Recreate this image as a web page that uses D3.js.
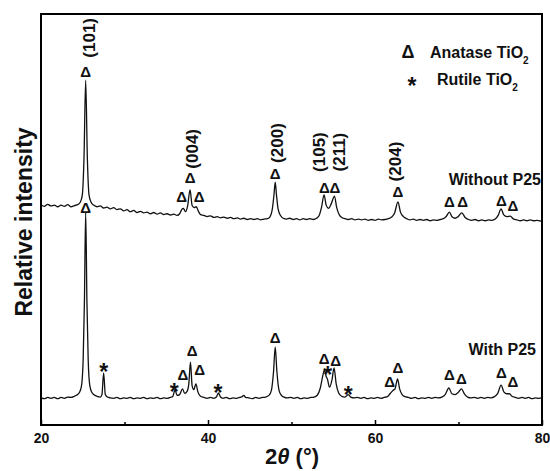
<!DOCTYPE html>
<html>
  <head>
    <meta charset="utf-8">
    <title>XRD patterns</title>
    <script src="https://unpkg.com/d3@7/dist/d3.min.js"></script>
    <style>
      body { margin: 0; background: #fff; }
      svg text { font-family: "Liberation Sans", Arial, sans-serif; font-weight: bold; fill: #111; }
      .tick line { stroke: #000; stroke-width: 1.5; }
      .tick text { font-size: 14px; }
    </style>
  </head>
  <body>
    <div id="chart"></div>
    <script>
    // XRD traces, [2theta, intensity a.u.]
    var withoutP25 = [
      [20.0,536],[20.4,532],[20.8,537],[21.2,533],[21.6,535],[22.0,531],[22.4,535],[22.8,532],[23.2,536],[23.6,531],
      [24.0,534],[24.4,536],[24.7,542],[24.95,560],[25.15,650],[25.35,839],[25.55,650],[25.75,560],[26.0,542],[26.3,535],
      [26.7,531],[27.1,533],[27.5,528],[27.9,530],[28.3,526],[28.7,529],[29.1,524],[29.5,526],[29.9,521],[30.3,524],
      [30.7,519],[31.1,522],[31.5,517],[31.9,520],[32.3,516],[32.7,518],[33.1,514],[33.5,517],[33.9,513],[34.3,516],
      [34.7,512],[35.1,514],[35.5,511],[35.9,513],[36.3,510],[36.6,514],[36.85,524],[37.05,527],[37.3,519],[37.55,532],
      [37.85,572],[38.1,534],[38.35,529],[38.6,531],[38.85,520],[39.1,512],[39.5,510],[39.9,507],[40.3,509],[40.7,505],
      [41.1,507],[41.5,504],[41.9,506],[42.3,503],[42.7,505],[43.1,502],[43.5,504],[43.9,501],[44.3,503],[44.7,500],
      [45.1,502],[45.5,500],[45.9,502],[46.3,499],[46.7,501],[47.1,502],[47.4,506],[47.7,525],[47.9,560],[48.05,591],
      [48.2,560],[48.4,525],[48.7,509],[49.0,503],[49.4,501],[49.8,503],[50.2,500],[50.6,502],[51.0,499],[51.4,502],
      [51.8,500],[52.2,502],[52.6,500],[53.0,503],[53.3,509],[53.6,530],[53.9,560],[54.15,535],[54.45,527],[54.75,538],
      [55.15,557],[55.4,530],[55.7,512],[56.0,505],[56.4,502],[56.8,500],[57.2,502],[57.6,499],[58.0,501],[58.4,499],
      [58.8,501],[59.2,498],[59.6,500],[60.0,498],[60.4,501],[60.8,499],[61.2,500],[61.6,502],[62.0,506],[62.35,516],
      [62.75,543],[63.05,518],[63.4,507],[63.8,502],[64.2,499],[64.6,501],[65.0,498],[65.4,500],[65.8,498],[66.2,500],
      [66.6,497],[67.0,499],[67.4,498],[67.8,500],[68.2,502],[68.55,508],[68.9,518],[69.25,506],[69.6,503],[69.95,507],
      [70.4,516],[70.8,505],[71.2,500],[71.6,498],[72.0,500],[72.4,497],[72.8,499],[73.2,497],[73.6,499],[74.0,498],
      [74.4,501],[74.75,510],[75.1,526],[75.4,512],[75.8,507],[76.2,508],[76.6,501],[77.0,499],[77.4,497],[77.8,499],
      [78.2,497],[78.6,499],[79.0,497],[79.4,498],[79.8,496],[80.0,498]
    ];

    var withP25 = [
      [20.0,66],[20.4,64],[20.8,67],[21.2,65],[21.6,67],[22.0,64],[22.4,67],[22.8,65],[23.2,68],[23.6,67],
      [24.0,70],[24.3,73],[24.6,79],[24.85,95],[25.05,160],[25.2,300],[25.35,518],[25.5,300],[25.65,160],[25.85,95],
      [26.1,79],[26.4,73],[26.8,69],[27.1,68],[27.3,74],[27.5,127],[27.7,74],[27.95,68],[28.3,66],[28.7,65],
      [29.1,67],[29.5,64],[29.9,66],[30.3,65],[30.7,67],[31.1,64],[31.5,66],[31.9,65],[32.3,67],[32.7,64],
      [33.1,66],[33.5,65],[33.9,67],[34.3,64],[34.7,66],[35.1,65],[35.5,67],[35.8,70],[36.05,86],[36.3,72],
      [36.6,74],[36.95,88],[37.2,77],[37.5,82],[37.7,100],[37.9,153],[38.1,95],[38.3,86],[38.55,100],[38.8,80],
      [39.1,70],[39.5,67],[39.9,65],[40.3,67],[40.7,65],[41.0,68],[41.25,78],[41.5,68],[41.8,65],[42.2,67],
      [42.6,64],[43.0,66],[43.4,65],[43.8,67],[44.1,69],[44.3,72],[44.5,67],[44.9,66],[45.3,64],[45.7,67],
      [46.1,65],[46.5,67],[46.9,68],[47.3,72],[47.6,85],[47.85,130],[48.05,190],[48.25,130],[48.5,85],[48.8,72],
      [49.1,68],[49.5,66],[49.9,67],[50.3,65],[50.7,67],[51.1,64],[51.5,66],[51.9,65],[52.3,67],[52.7,68],
      [53.1,73],[53.45,90],[53.75,120],[53.95,134],[54.15,118],[54.3,112],[54.55,92],[54.85,110],[55.1,139],[55.35,100],
      [55.65,78],[56.0,70],[56.4,68],[56.8,74],[57.1,68],[57.5,66],[57.9,67],[58.3,65],[58.7,67],[59.1,64],
      [59.5,66],[59.9,65],[60.3,67],[60.7,65],[61.1,67],[61.5,69],[61.8,76],[62.15,84],[62.4,88],[62.7,112],
      [62.95,88],[63.25,74],[63.6,69],[64.0,67],[64.4,65],[64.8,67],[65.2,64],[65.6,66],[66.0,65],[66.4,67],
      [66.8,65],[67.2,67],[67.6,66],[68.0,68],[68.4,74],[68.85,90],[69.2,76],[69.6,74],[70.0,80],[70.35,88],
      [70.7,76],[71.1,68],[71.5,66],[71.9,67],[72.3,65],[72.7,67],[73.1,65],[73.5,67],[73.9,66],[74.3,69],
      [74.7,77],[75.1,97],[75.45,80],[75.8,76],[76.1,76],[76.4,70],[76.8,67],[77.2,65],[77.6,67],[78.0,65],
      [78.4,67],[78.8,64],[79.2,66],[79.6,65],[80.0,66]
    ];

    // peak markers [2theta, intensity]
    var anataseWithout = [[25.35,859],[36.85,557],[37.85,601],[38.95,555],[48.05,613],[53.95,577],[55.2,577],
      [62.75,567],[68.9,543],[70.5,543],[75.15,547],[76.5,533]];
    var anataseWith = [[25.35,530],[37.0,122],[38.1,182],[39.0,136],[48.05,212],[53.9,163],[55.3,156],
      [61.75,105],[62.75,141],[68.9,122],[70.35,114],[75.15,127],[76.5,107]];
    var rutileWith = [[27.5,144],[35.95,95],[41.2,92],[54.35,136],[56.8,88]];

    var hklText = ["(101)", "(004)", "(200)", "(105)", "(211)", "(204)"];
    var hklPos = [[25.8,942],[38.15,672],[48.3,686],[53.4,664],[55.75,664],[62.45,641]];

    var xTicks = [20, 40, 60, 80];
    var xMinor = [30, 50, 70];

    var margin = {top: 14, right: 8, bottom: 46, left: 41},
        W = 550, H = 471,
        width = W - margin.left - margin.right,
        height = H - margin.top - margin.bottom;

    var svg = d3.select("#chart").append("svg")
      .attr("width", W)
      .attr("height", H);

    var g = svg.append("g")
      .attr("transform", "translate(" + margin.left + "," + margin.top + ")");

    var x = d3.scaleLinear().domain([20, 80]).range([0, width]);
    var y = d3.scaleLinear().domain([0, 1000]).range([height, 0]);

    var line = d3.line()
      .x(d => x(d[0]))
      .y(d => y(d[1]))
      .curve(d3.curveMonotoneX);

    [withoutP25, withP25].forEach(function(s) {
      g.append("path")
        .datum(s)
        .attr("d", line)
        .attr("fill", "none")
        .attr("stroke", "#111")
        .attr("stroke-width", 1.3)
        .attr("stroke-linejoin", "round");
    });

    // axis ticks point inward
    g.append("g")
      .attr("transform", "translate(0," + height + ")")
      .call(d3.axisBottom(x).tickValues(xTicks).tickSizeInner(-5).tickSizeOuter(0).tickPadding(8))
      .call(a => a.select(".domain").remove());

    g.append("g")
      .attr("transform", "translate(0," + height + ")")
      .call(d3.axisBottom(x).tickValues(xMinor).tickSizeInner(-3).tickSizeOuter(0).tickFormat(""))
      .call(a => a.select(".domain").remove());

    g.append("rect")
      .attr("width", width)
      .attr("height", height)
      .attr("fill", "none")
      .attr("stroke", "#000")
      .attr("stroke-width", 2);

    // markers
    g.selectAll(".tri")
      .data(anataseWithout.concat(anataseWith))
      .enter().append("text")
      .attr("x", d => x(d[0]))
      .attr("y", d => y(d[1]))
      .attr("text-anchor", "middle")
      .attr("dominant-baseline", "central")
      .style("font-size", "15px")
      .text("\u0394");

    g.selectAll(".star")
      .data(rutileWith)
      .enter().append("text")
      .attr("x", d => x(d[0]))
      .attr("y", d => y(d[1]))
      .attr("dy", "0.6em")
      .attr("text-anchor", "middle")
      .style("font-size", "23px")
      .text("*");

    g.selectAll(".hkl")
      .data(hklPos)
      .enter().append("text")
      .attr("transform", d => "translate(" + x(d[0]) + "," + y(d[1]) + ") rotate(-90)")
      .attr("text-anchor", "middle")
      .attr("dominant-baseline", "central")
      .style("font-size", "17px")
      .text((d, i) => hklText[i]);

    // sample labels
    svg.append("text")
      .attr("x", 541).attr("y", 185)
      .attr("text-anchor", "end")
      .style("font-size", "16px")
      .text("Without P25");

    svg.append("text")
      .attr("x", 536).attr("y", 355)
      .attr("text-anchor", "end")
      .style("font-size", "16px")
      .text("With P25");

    // legend
    var leg = svg.append("g");
    leg.append("text").attr("x", 408).attr("y", 52)
      .attr("text-anchor", "middle").attr("dominant-baseline", "central")
      .style("font-size", "18px").text("\u0394");
    var t1 = leg.append("text").attr("x", 430).attr("y", 58).style("font-size", "16px");
    t1.append("tspan").text("Anatase TiO");
    t1.append("tspan").attr("dy", 6).style("font-size", "10px").text("2");

    leg.append("text").attr("x", 412).attr("y", 80).attr("dy", "0.6em")
      .attr("text-anchor", "middle")
      .style("font-size", "23px").text("*");
    var t2 = leg.append("text").attr("x", 437).attr("y", 85).style("font-size", "16px");
    t2.append("tspan").text("Rutile TiO");
    t2.append("tspan").attr("dy", 6).style("font-size", "10px").text("2");

    // axis titles
    var xt = svg.append("text")
      .attr("x", 292).attr("y", 464)
      .attr("text-anchor", "middle")
      .style("font-size", "22px");
    xt.append("tspan").text("2");
    xt.append("tspan").style("font-style", "italic").text("\u03b8");
    xt.append("tspan").text(" (\u00b0)");

    svg.append("text")
      .attr("transform", "translate(32,222) rotate(-90)")
      .attr("text-anchor", "middle")
      .style("font-size", "23px")
      .text("Relative intensity");
    </script>
  </body>
</html>
